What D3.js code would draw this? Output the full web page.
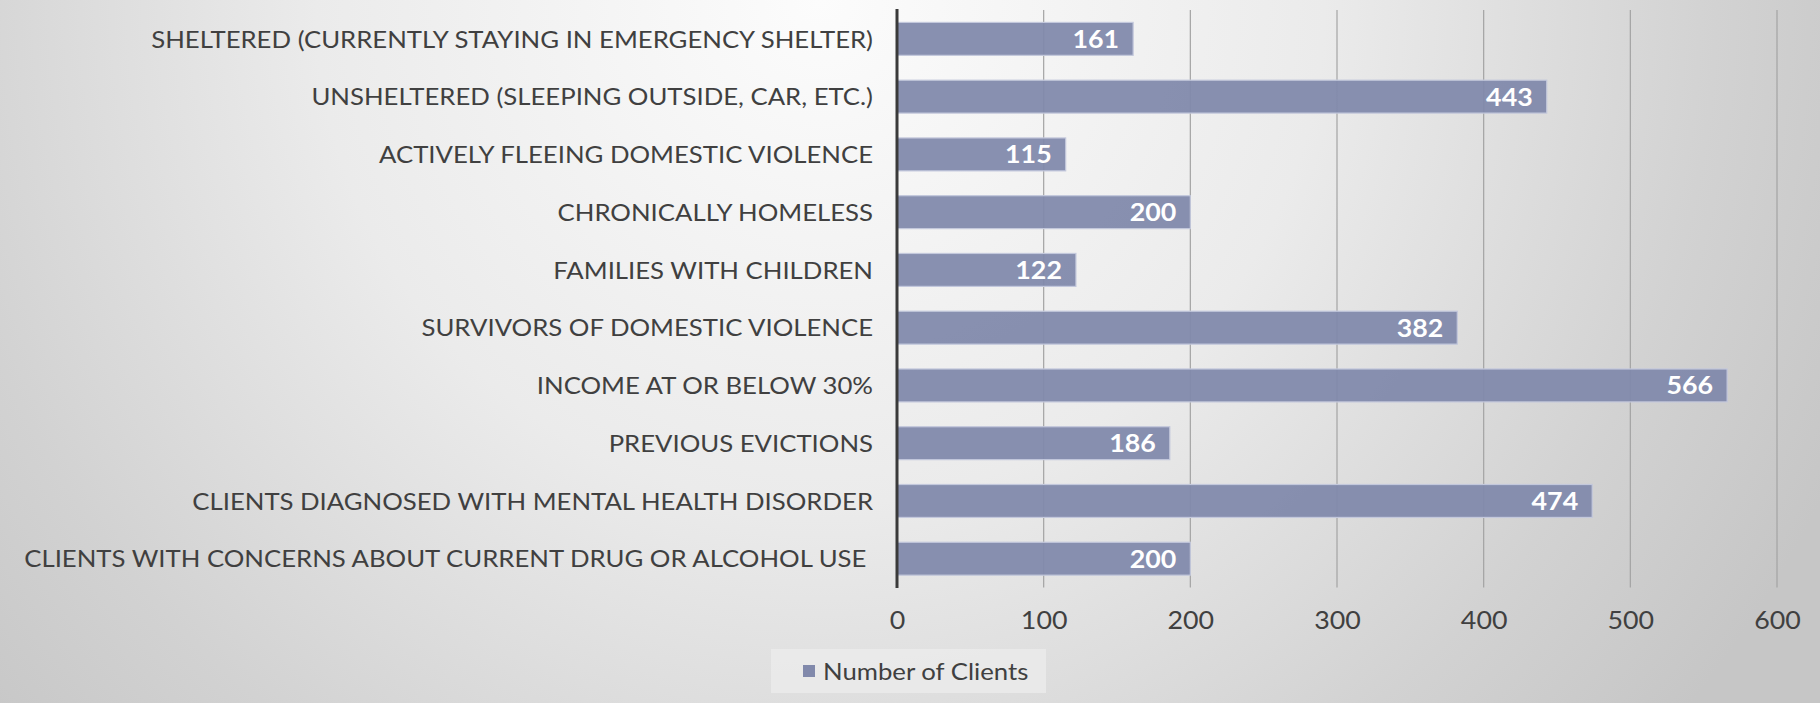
<!DOCTYPE html>
<html><head><meta charset="utf-8">
<script src="https://cdn.jsdelivr.net/npm/d3@7/dist/d3.min.js"></script>
<style>html,body{margin:0;padding:0;overflow:hidden;background:#ddd}svg{display:block}text{white-space:pre}</style>
</head><body>
<svg id="c" width="1820" height="703"></svg>
<script>
const categories = [
  "SHELTERED (CURRENTLY STAYING IN EMERGENCY SHELTER)",
  "UNSHELTERED (SLEEPING OUTSIDE, CAR, ETC.)",
  "ACTIVELY FLEEING DOMESTIC VIOLENCE",
  "CHRONICALLY HOMELESS",
  "FAMILIES WITH CHILDREN",
  "SURVIVORS OF DOMESTIC VIOLENCE",
  "INCOME AT OR BELOW 30%",
  "PREVIOUS EVICTIONS",
  "CLIENTS DIAGNOSED WITH MENTAL HEALTH DISORDER",
  "CLIENTS WITH CONCERNS ABOUT CURRENT DRUG OR ALCOHOL USE "
];
const values = [161, 443, 115, 200, 122, 382, 566, 186, 474, 200];
const xTicks = [0, 100, 200, 300, 400, 500, 600];
const seriesName = "Number of Clients";

const W = 1820, H = 703;
const svg = d3.select("#c");
const FONT = "Lato, 'Open Sans', sans-serif";
const TXT = "#404040";
const BAR = "#8189ab";

// background
const defs = svg.append("defs");
const rg = defs.append("radialGradient").attr("id","bg").attr("gradientUnits","userSpaceOnUse")
  .attr("cx",820).attr("cy",0).attr("r",1120);
rg.append("stop").attr("offset",0).attr("stop-color","#fcfcfc");
rg.append("stop").attr("offset",0.45).attr("stop-color","#ebebeb");
rg.append("stop").attr("offset",0.8).attr("stop-color","#d2d2d2");
rg.append("stop").attr("offset",1).attr("stop-color","#c6c6c6");
svg.append("rect").attr("width",W).attr("height",H).attr("fill","url(#bg)");

const x = d3.scaleLinear().domain([0, 600]).range([897, 1777]);
const y = d3.scaleBand().domain(categories).range([10, 587.6]).paddingInner(0.43).paddingOuter(0.215);

// measure condensation factor (reference face is narrower than Lato)
const probe = svg.append("text").attr("font-family",FONT).attr("font-size",24).text(categories[0]);
const K = 722 / probe.node().getComputedTextLength();
probe.remove();

// gridlines
svg.append("g").selectAll("line").data(xTicks.filter(d => d > 0)).join("line")
  .attr("x1", d => x(d)).attr("x2", d => x(d))
  .attr("y1", 10).attr("y2", 587.6)
  .attr("stroke", "#a3a3a3").attr("stroke-width", 1.2);

// bars
svg.append("g").selectAll("rect").data(values).join("rect")
  .attr("x", x(0)).attr("y", (d,i) => y(categories[i]))
  .attr("width", d => x(d) - x(0)).attr("height", y.bandwidth())
  .attr("fill", BAR).attr("fill-opacity", 0.94)
  .attr("stroke", "#c3c8dc").attr("stroke-width", 1.2);

// axis line
svg.append("line").attr("x1", x(0)).attr("x2", x(0)).attr("y1", 9).attr("y2", 588)
  .attr("stroke", "#3a3a3a").attr("stroke-width", 3);

// category labels
svg.append("g").selectAll("text").data(categories).join("text")
  .attr("transform", d => `translate(873,${y(d) + y.bandwidth()/2}) scale(${K},1)`)
  .attr("text-anchor","end").attr("dy","0.36em")
  .attr("font-family",FONT).attr("font-size",24).attr("fill",TXT)
  .text(d => d);

// value labels
svg.append("g").selectAll("text").data(values).join("text")
  .attr("transform", (d,i) => `translate(${x(d) - 14},${y(categories[i]) + y.bandwidth()/2}) scale(${K},1)`)
  .attr("text-anchor","end").attr("dy","0.36em")
  .attr("font-family",FONT).attr("font-size",25).attr("font-weight","bold").attr("fill","#ffffff")
  .text(d => d);

// x axis
const ax = svg.append("g").attr("transform","translate(0,587.6)")
  .call(d3.axisBottom(x).tickValues(xTicks).tickSize(0).tickFormat(d3.format("d")));
ax.select(".domain").remove();
ax.selectAll("text").attr("y", 41).attr("dy", 0)
  .attr("font-family",FONT).attr("font-size",25).attr("fill",TXT)
  .attr("transform", `scale(${K},1)`)
  .each(function(){ const t = d3.select(this); t.attr("x", 0); });

// legend
const lg = svg.append("g");
lg.append("rect").attr("x",771).attr("y",649).attr("width",275).attr("height",44)
  .attr("fill","#ececec").attr("fill-opacity",0.75);
lg.append("rect").attr("x",803).attr("y",665).attr("width",12).attr("height",12).attr("fill",BAR);
lg.append("text").attr("transform",`translate(823,671) scale(${K},1)`).attr("dy","0.36em")
  .attr("font-family",FONT).attr("font-size",24).attr("fill",TXT).text(seriesName);
</script>
</body></html>
